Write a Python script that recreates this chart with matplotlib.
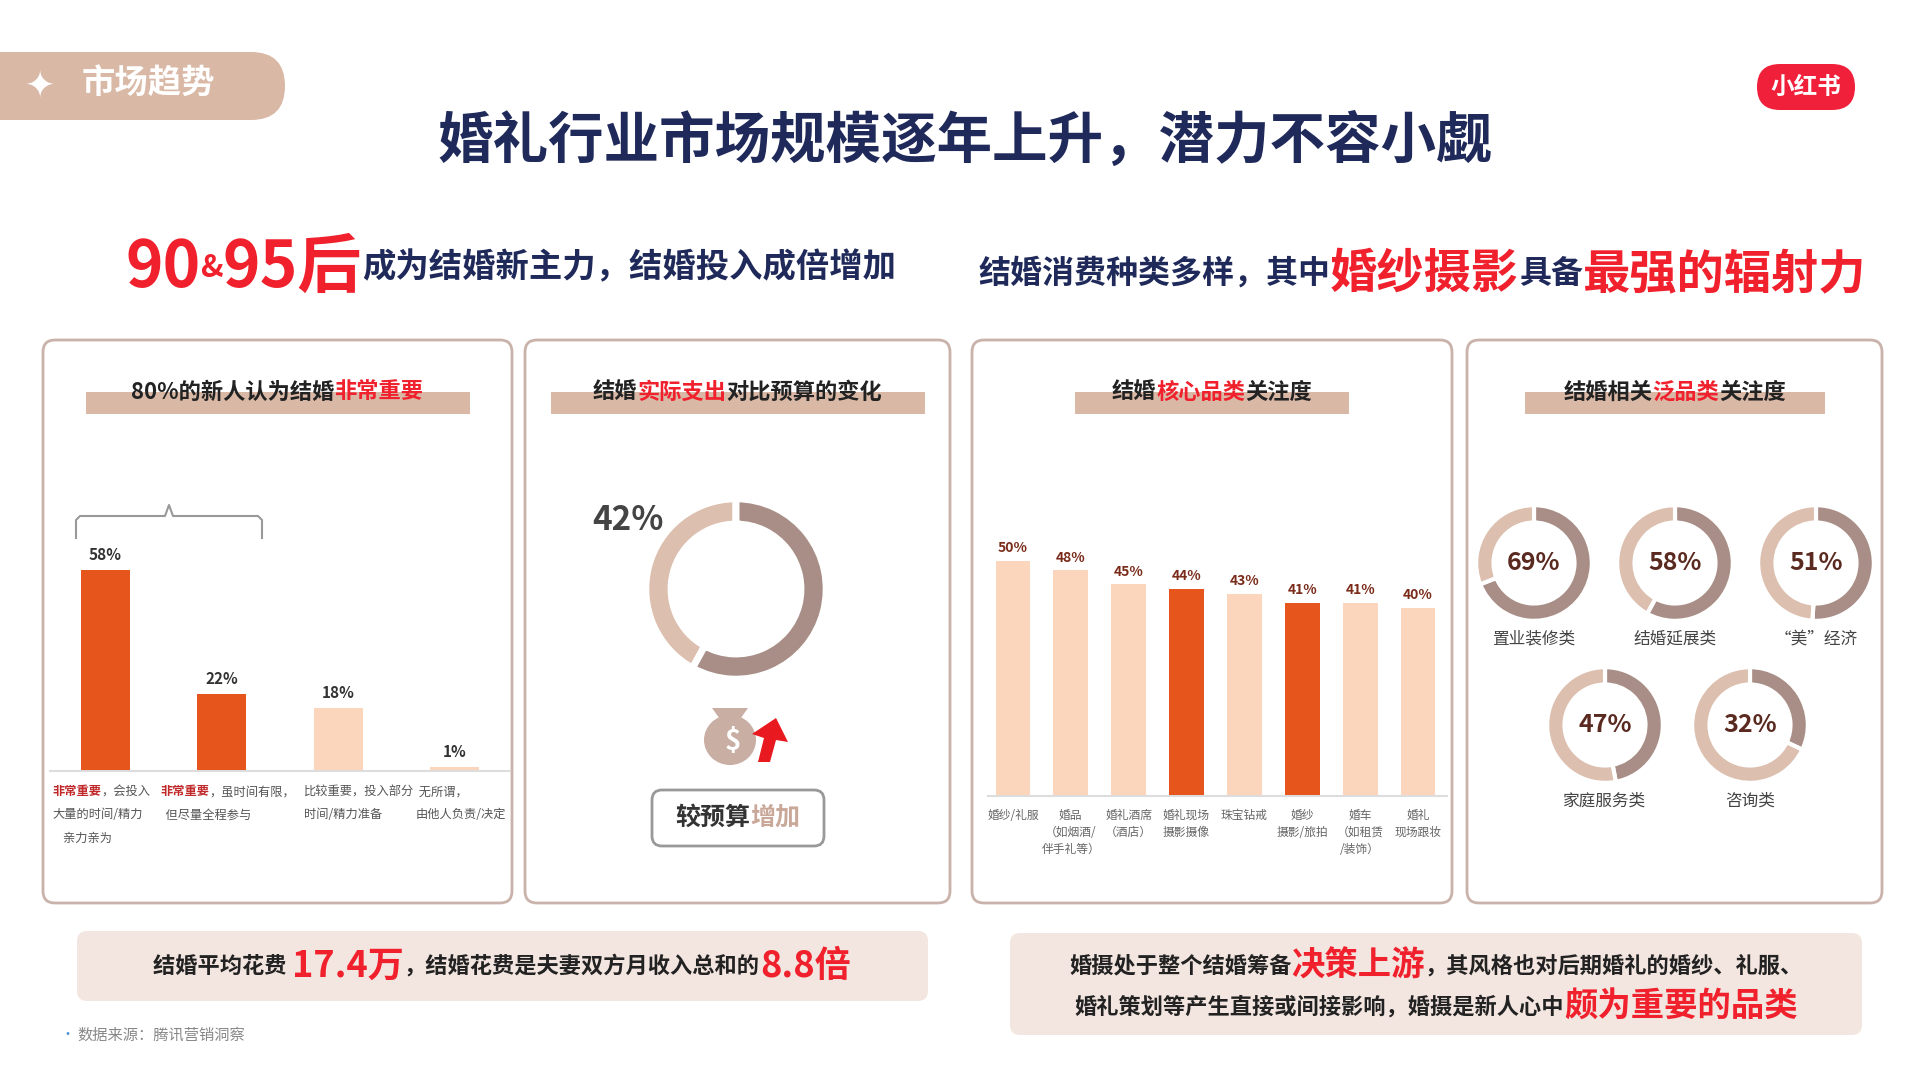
import matplotlib.pyplot as plt
from matplotlib.patches import FancyBboxPatch, Rectangle, Polygon, Ellipse

plt.rcParams['font.family'] = 'Noto Sans CJK SC'

# 数据
imp_values = [58, 22, 18, 1]
imp_colors = ['#e6561c', '#e6561c', '#fcd5bd', '#fcd5bd']
imp_labels = [('非常重要', '，会投入', ['大量的时间/精力', '    亲力亲为']),
              ('非常重要', '，虽时间有限，', ['  但尽量全程参与']),
              ('', '比较重要，投入部分', ['时间/精力准备']),
              ('', ' 无所谓，', ['由他人负责/决定'])]
budget_increase = 42
core_cats = ['婚纱/礼服', '婚品\n（如烟酒/\n伴手礼等）', '婚礼酒席\n（酒店）', '婚礼现场\n摄影摄像', '珠宝钻戒',
             '婚纱\n摄影/旅拍', '婚车\n（如租赁\n/装饰）', '婚礼\n现场跟妆']
core_values = [50, 48, 45, 44, 43, 41, 41, 40]
core_colors = ['#fcd5bd', '#fcd5bd', '#fcd5bd', '#e6561c', '#fcd5bd', '#e6561c', '#fcd5bd', '#fcd5bd']
pan_cats = ['置业装修类', '结婚延展类', '“美”经济', '家庭服务类', '咨询类']
pan_values = [69, 58, 51, 47, 32]

NAVY = '#1f2a5a'
RED = '#f0202c'
BEIGE = '#d9b8a6'
DARK = '#a88e86'
LIGHT = '#dcbfae'

fig = plt.figure(figsize=(19.2, 10.8), dpi=100)
ax = fig.add_axes([0, 0, 1, 1])
ax.set_xlim(0, 1920)
ax.set_ylim(1080, 0)
ax.axis('off')
renderer = fig.canvas.get_renderer()


def inset(x0, y0, x1, y1):
    return fig.add_axes([x0 / 1920, 1 - y1 / 1080, (x1 - x0) / 1920, (y1 - y0) / 1080])


def rich(x, y, pieces, align='left'):
    # pieces: (text, color, size, weight)
    arts = []
    for t, c, s, w in pieces:
        arts.append(ax.text(0, y, t, color=c, fontsize=s, fontweight=w, va='center', ha='left'))
    widths = [a.get_window_extent(renderer).width for a in arts]
    if align == 'center':
        x = x - sum(widths) / 2
    for a, wd in zip(arts, widths):
        a.set_x(x)
        x += wd


# 左上标签
ax.add_patch(FancyBboxPatch((-40, 52), 325, 68, boxstyle='round,pad=0,rounding_size=34', fc=BEIGE, ec='none'))
ax.text(40, 86, '✦', color='white', fontsize=26, va='center', ha='center', family='DejaVu Sans')
ax.text(82, 84, '市场趋势', color='white', fontsize=24, fontweight='bold', va='center')
# 小红书
ax.add_patch(FancyBboxPatch((1757, 64), 98, 46, boxstyle='round,pad=0,rounding_size=23', fc='#f1203a', ec='none'))
ax.text(1806, 87, '小红书', color='white', fontsize=17, fontweight='bold', va='center', ha='center')

ax.text(965, 142, '婚礼行业市场规模逐年上升，潜力不容小觑', color=NAVY, fontsize=40, fontweight='bold',
        ha='center', va='center')

rich(125, 268, [('90', RED, 46, 'bold'), ('&', RED, 22, 'bold'), ('95后', RED, 46, 'bold'),
                ('成为结婚新主力，结婚投入成倍增加', NAVY, 24, 'bold')])
rich(978, 274, [('结婚消费种类多样，其中', NAVY, 23, 'bold'), ('婚纱摄影', RED, 34, 'bold'),
                ('具备', NAVY, 23, 'bold'), ('最强的辐射力', RED, 34, 'bold')])

# 面板
panels = [(43, 512, '80%的新人认为结婚', '非常重要', ''),
          (525, 950, '结婚', '实际支出', '对比预算的变化'),
          (972, 1452, '结婚', '核心品类', '关注度'),
          (1467, 1882, '结婚相关', '泛品类', '关注度')]
for x0, x1, a, b, c in panels:
    ax.add_patch(FancyBboxPatch((x0, 340), x1 - x0, 563, boxstyle='round,pad=0,rounding_size=12',
                                fc='white', ec='#c9b2aa', lw=2))
    cx = (x0 + x1) / 2
    hw = {43: 192, 525: 187, 972: 137, 1467: 150}[x0]
    ax.add_patch(Rectangle((cx - hw, 392), 2 * hw, 22, fc=BEIGE, ec='none'))
    rich(cx, 392, [(a, '#222222', 16, 'bold'), (b, RED, 16, 'bold'), (c, '#222222', 16, 'bold')], 'center')

# 面板1 柱状图
a1 = inset(47, 529, 513, 770)
a1.bar(range(len(imp_values)), imp_values, width=0.42, color=imp_colors)
for i, v in enumerate(imp_values):
    a1.text(i, v + 2, f'{v}%', ha='center', va='bottom', fontsize=11, fontweight='bold', color='#333333')
a1.set_xlim(-0.5, 3.5)
a1.set_ylim(0, 70)
a1.axis('off')
ax.plot([50, 510], [771, 771], color='#dddddd', lw=1.5)
ax.plot([76, 76, 80, 165, 169, 173, 258, 262, 262], [538, 520, 516, 516, 505, 516, 516, 520, 538],
        color='#999999', lw=1.5)
lx = [52, 160, 304, 416]
for x, (red, rest, lines) in zip(lx, imp_labels):
    y = 792
    rich(x, y, [(red, '#c0282a', 8.8, 'bold'), (rest, '#555555', 8.8, 'normal')])
    for k, line in enumerate(lines):
        ax.text(x, y + 23 * (k + 1), line, fontsize=8.8, color='#555555', va='center')

# 面板2 环形图
a2 = inset(644, 497, 828, 681)
a2.pie([budget_increase, 100 - budget_increase], colors=[LIGHT, DARK], startangle=90,
       wedgeprops=dict(width=0.28, edgecolor='white', linewidth=5))
a2.set_xlim(-1.02, 1.02)
a2.set_ylim(-1.02, 1.02)
a2.set_aspect('equal')
ax.text(628, 520, f'{budget_increase}%', fontsize=24, fontweight='bold', color='#444444', ha='center', va='center')
ax.add_patch(Ellipse((730, 740), 52, 50, fc='#c9aea3', ec='none'))
ax.add_patch(Polygon([[712, 708], [748, 708], [738, 722], [722, 722]], fc='#c9aea3', ec='none'))
ax.text(733, 742, '$', color='white', fontsize=20, fontweight='bold', ha='center', va='center')
ax.add_patch(Polygon([[758, 762], [770, 762], [776, 740], [788, 742], [776, 718], [752, 734], [764, 738]],
                     fc='#e8191f', ec='none'))
ax.add_patch(FancyBboxPatch((652, 790), 172, 56, boxstyle='round,pad=0,rounding_size=10',
                            fc='white', ec='#999999', lw=2))
rich(738, 818, [('较预算', '#333333', 18, 'bold'), ('增加', '#c9a89a', 18, 'bold')], 'center')

# 面板3 柱状图
a3 = inset(984, 514, 1447, 795)
a3.bar(range(len(core_values)), core_values, width=0.6, color=core_colors)
for i, v in enumerate(core_values):
    a3.text(i, v + 1.2, f'{v}%', ha='center', va='bottom', fontsize=10, fontweight='bold', color='#7a2b1a')
    a3.text(i, -3, core_cats[i], ha='center', va='top', fontsize=8.5, color='#666666', linespacing=1.4)
a3.set_xlim(-0.5, 7.5)
a3.set_ylim(0, 60)
a3.axis('off')
ax.plot([988, 1447], [796, 796], color='#dddddd', lw=1.5)

# 面板4 环形图
centers = [(1534, 563), (1675, 563), (1816, 563), (1605, 725), (1750, 725)]
for (cx, cy), v, name in zip(centers, pan_values, pan_cats):
    a4 = inset(cx - 59, cy - 59, cx + 59, cy + 59)
    a4.pie([v, 100 - v], colors=[DARK, LIGHT], startangle=90, counterclock=False,
           wedgeprops=dict(width=0.3, edgecolor='white', linewidth=3))
    a4.set_xlim(-1.02, 1.02)
    a4.set_ylim(-1.02, 1.02)
    a4.set_aspect('equal')
    a4.text(0, 0, f'{v}%', ha='center', va='center', fontsize=18, fontweight='bold', color='#5a2a20')
    ax.text(cx, cy + 76, name, ha='center', va='center', fontsize=12, color='#444444')

# 底部
ax.add_patch(FancyBboxPatch((77, 931), 851, 70, boxstyle='round,pad=0,rounding_size=10', fc='#f3e6e0', ec='none'))
rich(502, 966, [('结婚平均花费 ', '#222222', 16, 'bold'), ('17.4万', RED, 26, 'bold'),
                ('，结婚花费是夫妻双方月收入总和的', '#222222', 16, 'bold'), ('8.8倍', RED, 26, 'bold')], 'center')
ax.add_patch(FancyBboxPatch((1010, 933), 852, 102, boxstyle='round,pad=0,rounding_size=10', fc='#f3e6e0', ec='none'))
rich(1436, 966, [('婚摄处于整个结婚筹备', '#222222', 16, 'bold'), ('决策上游', RED, 24, 'bold'),
                 ('，其风格也对后期婚礼的婚纱、礼服、', '#222222', 16, 'bold')], 'center')
rich(1436, 1007, [('婚礼策划等产生直接或间接影响，婚摄是新人心中', '#222222', 16, 'bold'),
                  ('颇为重要的品类', RED, 24, 'bold')], 'center')
ax.text(60, 1035, '•', color='#4a90d9', fontsize=10, va='center')
ax.text(77, 1035, '数据来源：腾讯营销洞察', color='#888888', fontsize=11, va='center')

fig.savefig('out.png', dpi=100, facecolor='white')
